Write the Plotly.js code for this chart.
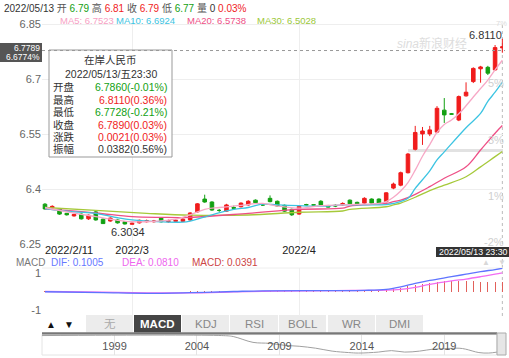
<!DOCTYPE html>
<html><head><meta charset="utf-8">
<script src="https://cdn.plot.ly/plotly-3.0.1.min.js"></script>
<style>html,body{margin:0;padding:0;background:#fff;}#c{width:509px;height:358px;}</style>
</head><body><div id="c"></div>
<script>
// ---- data ----
const dates = ['2022/2/11','2022/2/14','2022/2/15','2022/2/16','2022/2/17','2022/2/18','2022/2/21','2022/2/22','2022/2/23','2022/2/24','2022/2/25','2022/2/28',
'2022/3/1','2022/3/2','2022/3/3','2022/3/4','2022/3/7','2022/3/8','2022/3/9','2022/3/10','2022/3/11','2022/3/14','2022/3/15','2022/3/16','2022/3/17','2022/3/18','2022/3/21','2022/3/22','2022/3/23','2022/3/24','2022/3/25','2022/3/28','2022/3/29','2022/3/30','2022/3/31',
'2022/4/1','2022/4/2','2022/4/6','2022/4/7','2022/4/8','2022/4/11','2022/4/12','2022/4/13','2022/4/14','2022/4/15','2022/4/18','2022/4/19','2022/4/20','2022/4/21','2022/4/22','2022/4/24','2022/4/25','2022/4/26','2022/4/27','2022/4/28','2022/4/29',
'2022/5/5','2022/5/6','2022/5/7','2022/5/9','2022/5/10','2022/5/11','2022/5/12','2022/5/13'];
const open  = [6.359,6.349,6.346,6.334,6.327,6.332,6.319,6.338,6.318,6.313,6.316,6.311,6.304,6.308,6.311,6.311,6.321,6.311,6.312,6.312,6.316,6.338,6.373,6.365,6.342,6.340,6.350,6.352,6.357,6.370,6.357,6.375,6.367,6.356,6.345,6.332,6.358,6.3575,6.367,6.355,6.356,6.357,6.370,6.364,6.362,6.373,6.373,6.366,6.403,6.411,6.445,6.509,6.551,6.551,6.556,6.616,6.606,6.589,6.655,6.694,6.729,6.733,6.726,6.786];
const high  = [6.362,6.356,6.348,6.335,6.333,6.334,6.331,6.341,6.320,6.323,6.318,6.313,6.309,6.317,6.317,6.316,6.324,6.317,6.318,6.320,6.337,6.362,6.385,6.367,6.346,6.360,6.355,6.364,6.370,6.372,6.361,6.383,6.369,6.358,6.347,6.356,6.360,6.358,6.370,6.357,6.359,6.364,6.372,6.366,6.378,6.375,6.375,6.392,6.418,6.448,6.499,6.573,6.570,6.573,6.627,6.649,6.608,6.656,6.692,6.733,6.737,6.737,6.794,6.811];
const low   = [6.344,6.347,6.330,6.328,6.325,6.317,6.316,6.314,6.305,6.311,6.306,6.3034,6.304,6.306,6.309,6.309,6.309,6.308,6.310,6.310,6.313,6.336,6.363,6.341,6.338,6.338,6.344,6.350,6.355,6.361,6.354,6.364,6.352,6.338,6.327,6.330,6.355,6.356,6.355,6.350,6.351,6.355,6.358,6.358,6.360,6.360,6.360,6.364,6.400,6.408,6.443,6.506,6.521,6.545,6.553,6.581,6.604,6.586,6.653,6.690,6.691,6.712,6.724,6.7728];
const close = [6.346,6.353,6.332,6.330,6.331,6.319,6.329,6.316,6.306,6.321,6.308,6.305,6.307,6.315,6.314,6.313,6.311,6.314,6.315,6.318,6.335,6.360,6.365,6.343,6.342,6.357,6.348,6.362,6.367,6.363,6.357,6.366,6.354,6.340,6.330,6.353,6.357,6.3565,6.357,6.351,6.354,6.361,6.360,6.360,6.375,6.362,6.362,6.390,6.414,6.445,6.496,6.555,6.559,6.562,6.621,6.603,6.605,6.653,6.665,6.730,6.734,6.717,6.7869,6.789];

const ma5I  = [0,3,7,10,12,15,18,20,22,24,27,30,32,35,38,41,44,46,47,48,49,50,51,52,53,54,55,56,57,58,59,60,61,62,63];
const ma5V  = [6.350,6.338,6.325,6.315,6.311,6.312,6.318,6.330,6.345,6.350,6.356,6.361,6.354,6.348,6.355,6.357,6.359,6.361,6.366,6.378,6.395,6.418,6.452,6.490,6.522,6.555,6.577,6.589,6.606,6.628,6.652,6.675,6.698,6.726,6.7523];
const ma10I = [0,4,7,10,12,16,19,20,23,26,28,30,32,35,39,41,45,47,48,50,51,53,54,55,58,60,61,62,63];
const ma10V = [6.347,6.338,6.334,6.322,6.316,6.311,6.310,6.313,6.330,6.345,6.350,6.359,6.357,6.355,6.354,6.357,6.357,6.358,6.361,6.375,6.402,6.450,6.480,6.502,6.568,6.607,6.640,6.665,6.6924];
const ma20I = [0,7,12,16,20,28,35,41,42,47,48,49,51,53,55,58,60,62,63];
const ma20V = [6.346,6.335,6.325,6.323,6.323,6.334,6.345,6.348,6.354,6.361,6.366,6.370,6.386,6.407,6.430,6.461,6.507,6.553,6.5738];
const ma30I = [0,7,14,20,28,35,41,42,47,48,49,51,53,55,58,60,62,63];
const ma30V = [6.350,6.342,6.334,6.329,6.3295,6.337,6.3404,6.345,6.352,6.357,6.362,6.378,6.396,6.411,6.434,6.461,6.489,6.5028];

const difI = [0,8,14,20,26,30,36,44,47,49,51,53,56,58,60,62,63];
const difV = [-0.001,-0.005,-0.008,-0.005,0.0,0.003,0.004,0.005,0.009,0.020,0.035,0.048,0.064,0.075,0.086,0.095,0.1005];
const deaI = [0,8,14,20,26,32,40,47,49,51,53,56,58,60,62,63];
const deaV = [0.0,-0.003,-0.006,-0.006,-0.002,0.002,0.004,0.006,0.0095,0.018,0.031,0.046,0.054,0.064,0.075,0.081];
const macdV = [0.001,0.0005,-0.001,-0.002,-0.002,-0.003,-0.003,-0.003,-0.004,-0.004,-0.004,-0.004,-0.004,-0.003,-0.003,-0.003,-0.002,-0.002,-0.001,-0.001,
0.001,0.003,0.004,0.004,0.004,0.004,0.004,0.004,0.004,0.003,0.003,0.003,0.002,0.002,0.001,0.001,0.002,0.002,0.002,0.002,
0.002,0.002,0.002,0.003,0.003,0.003,0.003,0.006,0.010,0.016,0.024,0.030,0.034,0.038,0.042,0.044,0.045,0.046,0.045,0.044,
0.043,0.042,0.040,0.0391];

const navYears = [1994.6,2005.5,2006.2,2007.4,2008.4,2009.3,2010.2,2011.2,2012.2,2013.2,2013.8,2015.0,2015.8,2016.6,2017.5,2018.3,2019.0,2019.9,2020.3,2021.1,2021.7,2022.2];
const navVals  = [8.28,8.28,8.16,7.44,7.32,7.08,6.96,6.72,6.36,6.18,6.12,6.24,6.42,6.24,6.36,6.60,6.66,6.72,6.60,6.18,6.12,6.24];
const navTicks = [1999,2004,2009,2014,2019];

const yTicks = [6.25,6.4,6.55,6.7,6.85];
const xTickIdx = [12,35];
const xTickText = ['2022/3','2022/4'];

// ---- drawing ----
const W=509,H=358;
const px = x=>x/W, py = y=>1-y/H;
const idx = dates.map((d,i)=>i);
const F = 'Liberation Sans, Arial, Noto Sans CJK SC, sans-serif';
const RED='#f01c1c', GREEN='#12a012';

const traces = [
 {type:'candlestick', x:idx, open:open, high:high, low:low, close:close, xaxis:'x', yaxis:'y',
  increasing:{line:{color:RED,width:1},fillcolor:RED}, decreasing:{line:{color:GREEN,width:1},fillcolor:GREEN},
  whiskerwidth:0, hoverinfo:'skip', showlegend:false},
 {type:'scatter', mode:'lines', x:ma30I, y:ma30V, line:{color:'#a6c93a',width:1.3,shape:'spline'}, xaxis:'x', yaxis:'y', hoverinfo:'skip'},
 {type:'scatter', mode:'lines', x:ma20I, y:ma20V, line:{color:'#ee4f86',width:1.3,shape:'spline'}, xaxis:'x', yaxis:'y', hoverinfo:'skip'},
 {type:'scatter', mode:'lines', x:ma10I, y:ma10V, line:{color:'#3cc4e2',width:1.3,shape:'spline'}, xaxis:'x', yaxis:'y', hoverinfo:'skip'},
 {type:'scatter', mode:'lines', x:ma5I, y:ma5V, line:{color:'#f7a8c6',width:1.3,shape:'spline'}, xaxis:'x', yaxis:'y', hoverinfo:'skip'},
 {type:'bar', x:idx, y:macdV, width:0.14, marker:{color:macdV.map(v=>v>=0?'#e2605a':'#52c3a8')}, xaxis:'x2', yaxis:'y2', hoverinfo:'skip'},
 {type:'scatter', mode:'lines', x:deaI, y:deaV, line:{color:'#f26cf2',width:1.3,shape:'spline'}, xaxis:'x2', yaxis:'y2', hoverinfo:'skip'},
 {type:'scatter', mode:'lines', x:difI, y:difV, line:{color:'#5f74ff',width:1.3,shape:'spline'}, xaxis:'x2', yaxis:'y2', hoverinfo:'skip'},
 {type:'scatter', mode:'lines', x:navYears, y:navVals, line:{color:'#a0a0a0',width:1,shape:'spline'}, xaxis:'x3', yaxis:'y3', hoverinfo:'skip'}
];

const ann = [];
function T(x,y,text,opt){ ann.push(Object.assign({xref:'paper',yref:'paper',x:px(x),y:py(y),text:text,showarrow:false,xanchor:'left',yanchor:'middle',font:{family:F,size:11,color:'#333'}},opt||{})); }
const c=(col,t)=>`<span style="color:${col}">${t}</span>`;
T(2,8, `2022/05/13 ${c('#555','开')} ${c(GREEN,'6.79')} ${c('#555','高')} ${c(RED,'6.81')} ${c('#555','收')} ${c(RED,'6.79')} ${c('#555','低')} ${c(GREEN,'6.77')} ${c('#555','量')} 0 ${c(RED,'0.03%')}`, {font:{family:F,size:10,color:'#333'}});
T(58,20,'MA5: 6.7523',{font:{family:F,size:9.5,color:'#f7a0c4'}});
T(114,20,'MA10: 6.6924',{font:{family:F,size:9.5,color:'#3cc4e2'}});
T(185,20,'MA20: 6.5738',{font:{family:F,size:9.5,color:'#ee4f86'}});
T(255,20,'MA30: 6.5028',{font:{family:F,size:9.5,color:'#9cc83a'}});
// x labels
T(43,250,dates[0],{font:{family:F,size:11,color:'#222'}});
// extremes
T(504,35,'6.8110',{xanchor:'right',font:{family:F,size:11,color:'#333'}});
T(128,232,'6.3034',{xanchor:'center',font:{family:F,size:11,color:'#333'}});
// watermark
T(432,44,'<i>sina</i>新浪财经',{xanchor:'center',font:{family:F,size:12,color:'#dddddd'}});
// right percent labels
[['5%',83],['3%',140],['1%',196],['-2%',242]].forEach(p=>T(506,p[1],p[0],{xanchor:'right',font:{family:F,size:11,color:'#cfcfcf'}}));
T(509,23.5,'7%',{xanchor:'right',font:{family:F,size:7.5,color:'#dcdcdc'}});
// crosshair price box
T(41,47.5,'6.7789',{xanchor:'right',borderpad:0,font:{family:F,size:8.5,color:'#fff'}});
T(41,57.5,'6.6774%',{xanchor:'right',borderpad:0,font:{family:F,size:8.5,color:'#fff'}});
// date box
T(438,252,'2022/05/13 23:30',{borderpad:0,font:{family:F,size:8.8,color:'#fff'}});
// tooltip
T(110.5,60,'在岸人民币',{xanchor:'center',font:{family:F,size:10.5,color:'#333'}});
T(110.5,73.5,'2022/05/13/五23:30',{xanchor:'center',font:{family:F,size:10.5,color:'#333'}});
const rows=[['开盘','6.7860(-0.01%)',GREEN,87],['最高','6.8110(0.36%)',RED,99.5],['最低','6.7728(-0.21%)',GREEN,112],['收盘','6.7890(0.03%)',RED,124.5],['涨跌','0.0021(0.03%)',RED,137],['振幅','0.0382(0.56%)','#333',149.5]];
rows.forEach(r=>{T(51,r[3],r[0],{font:{family:F,size:10.5,color:'#333'}}); T(169,r[3],r[1],{xanchor:'right',font:{family:F,size:10.5,color:r[2]}});});
// MACD header
T(14,262,'MACD',{font:{family:F,size:10,color:'#777'}});
T(49,262,'DIF: 0.1005',{font:{family:F,size:10,color:'#6677ff'}});
T(120,262,'DEA: 0.0810',{font:{family:F,size:10,color:'#ee66ee'}});
T(190,262,'MACD: 0.0391',{font:{family:F,size:10,color:'#cc4444'}});
T(486,262,'▲',{xanchor:'center',font:{family:F,size:8,color:'#d8d8d8'}});
T(502,262,'▼',{xanchor:'center',font:{family:F,size:8,color:'#d8d8d8'}});
// buttons
T(51,324,'▲',{xanchor:'center',font:{family:F,size:10,color:'#111'}});
T(69,324,'▼',{xanchor:'center',font:{family:F,size:10,color:'#111'}});
const btns=[['无',86,133,'#aaa'],['MACD',134,181,'#fff'],['KDJ',182,229,'#888'],['RSI',230,278,'#888'],['BOLL',279,326,'#888'],['WR',328,375,'#888'],['DMI',376,423,'#888']];
const shapes=[];
function R(x0,y0,x1,y1,fill,line){ shapes.push({type:'rect',xref:'paper',yref:'paper',x0:px(x0),x1:px(x1),y0:py(y1),y1:py(y0),fillcolor:fill,line:line||{width:0},layer:'below'}); }
function Rf(x0,y0,x1,y1,fill,line){ shapes.push({type:'rect',xref:'paper',yref:'paper',x0:px(x0),x1:px(x1),y0:py(y1),y1:py(y0),fillcolor:fill,line:line||{width:0},layer:'above'}); }
btns.forEach((b,i)=>{R(b[1],315,b[2],332.5,i==1?'#454545':'#ececec'); T((b[1]+b[2])/2,324,i==1?'<b>'+b[0]+'</b>':b[0],{xanchor:'center',font:{family:F,size:11.5,color:b[3]}});});
// overlay boxes
Rf(0,43,42,62,'#555');
Rf(436,247,509,257,'#333');
Rf(49,50,172,157,'rgba(255,255,255,1)',{color:'#999',width:1});
// navigator frame
Rf(42,332.3,497,334.6,'#777');
R(42,334.6,497,355,'rgba(0,0,0,0)',{color:'#e4e4e4',width:1});
Rf(497,333,506,355,'#e6e6e6',{color:'#aaa',width:1});
// crosshair lines
shapes.push({type:'line',xref:'paper',yref:'y',x0:px(42),x1:px(505),y0:6.7789,y1:6.7789,line:{color:'#999',width:1,dash:'dot'}});
shapes.push({type:'line',xref:'x',yref:'paper',x0:63,x1:63,y0:py(316),y1:py(25),line:{color:'#bbb',width:1,dash:'dot'},layer:'below'});
shapes.push({type:'line',xref:'paper',yref:'y',x0:px(408),x1:px(503),y0:6.5058,y1:6.5058,line:{color:'#e2e2e2',width:3},layer:'below'});
shapes.push({type:'line',xref:'paper',yref:'paper',x0:px(42),x1:px(503),y0:py(268),y1:py(268),line:{color:'#eee',width:1},layer:'below'});

const layout = {
 width:W, height:H, margin:{l:0,r:0,t:0,b:0}, paper_bgcolor:'#fff', plot_bgcolor:'#fff', showlegend:false,
 font:{family:F,size:11,color:'#666'},
 xaxis:{domain:[px(42),px(503)], range:[-0.41,63.09], anchor:'y', tickvals:xTickIdx, ticktext:xTickText, tickfont:{family:F,size:11,color:'#222'}, ticklabelstandoff:-3, showgrid:true, gridcolor:'#eeeeee', zeroline:false, showline:false, ticks:'', rangeslider:{visible:false}, fixedrange:true},
 yaxis:{domain:[py(245),py(20)], range:[6.2475,6.8623], anchor:'x', tickvals:yTicks, ticktext:yTicks.map(String), tickfont:{family:F,size:11,color:'#666'}, showgrid:true, gridcolor:'#eeeeee', zeroline:false, ticks:'', fixedrange:true},
 xaxis2:{domain:[px(42),px(503)], matches:'x', anchor:'y2', tickvals:xTickIdx, showticklabels:false, showgrid:true, gridcolor:'#eeeeee', zeroline:false, ticks:''},
 yaxis2:{domain:[py(316),py(268)], range:[-0.106,0.1017], anchor:'x2', tickvals:[0.08,-0.08], ticktext:['1','-1'], tickfont:{family:F,size:11,color:'#666'}, showgrid:false, zeroline:false, ticks:''},
 xaxis3:{domain:[px(42),px(497)], range:[1994.6,2022.2], anchor:'y3', tickvals:navTicks, ticktext:navTicks.map(String), ticklabelposition:'inside', tickfont:{family:F,size:11,color:'#555'}, showgrid:true, gridcolor:'#e4e4e4', zeroline:false, ticks:''},
 yaxis3:{domain:[py(355),py(334.6)], range:[5.88,8.40], anchor:'x3', visible:false},
 shapes:shapes, annotations:ann, bargap:0
};
Plotly.newPlot('c', traces, layout, {staticPlot:true, displayModeBar:false});
</script></body></html>
